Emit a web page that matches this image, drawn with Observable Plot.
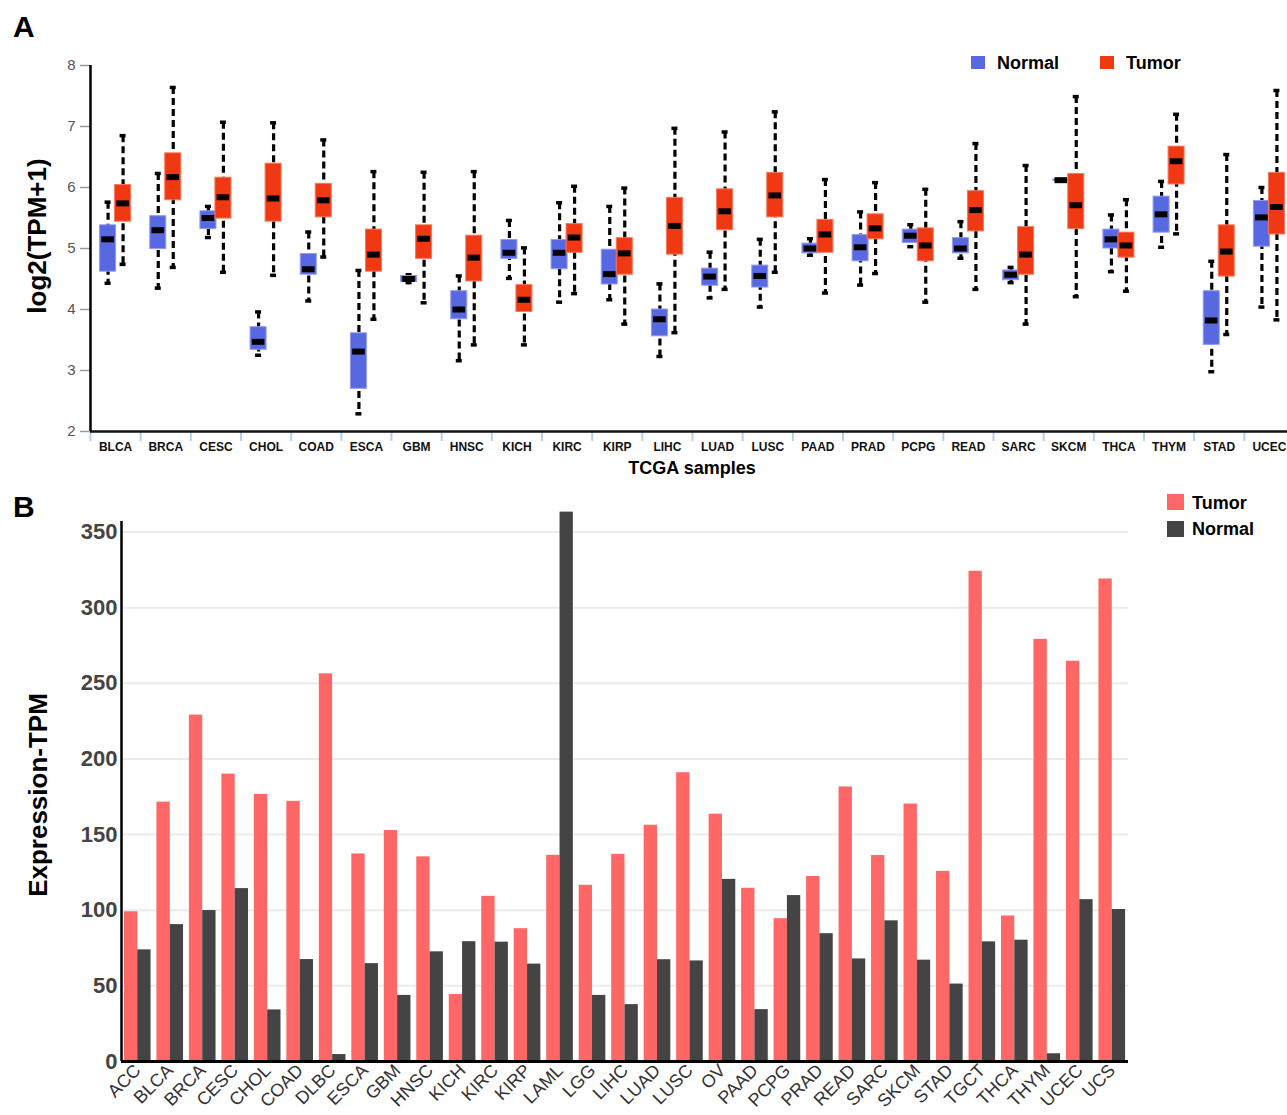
<!DOCTYPE html>
<html><head><meta charset="utf-8">
<script src="https://cdn.jsdelivr.net/npm/d3@7"></script>
<script src="https://cdn.jsdelivr.net/npm/@observablehq/plot@0.6"></script>
<style>
html,body{margin:0;padding:0;background:#fff;overflow:hidden;}
#root{position:relative;width:1287px;height:1115px;font-family:"Liberation Sans",Arial,sans-serif;background:#fff;}
.panel{position:absolute;left:0;}
.panel svg{font-family:"Liberation Sans",Arial,sans-serif;}
.pa [aria-label^="y-axis"] text{font-size:15px;fill:#555;font-weight:normal;}
.pa [aria-label^="y-axis"] line,.pa [aria-label^="y-axis"] path{stroke:#9a9a9a;stroke-width:1.5px;}
.pa [aria-label^="x-axis"] text{font-size:12px;fill:#111;font-weight:bold;}
.pb [aria-label^="y-axis"] text{font-size:22px;fill:#444;font-weight:bold;}
.pb [aria-label^="x-axis"] text{font-size:18px;fill:#333;font-weight:normal;}
#overlay{position:absolute;left:0;top:0;pointer-events:none;}
#overlay text{font-family:"Liberation Sans",Arial,sans-serif;font-weight:bold;fill:#000;}
</style></head>
<body><div id="root"></div>
<script>
// ---------------- Panel A data (log2(TPM+1)) ----------------
const catsA = ["BLCA","BRCA","CESC","CHOL","COAD","ESCA","GBM","HNSC","KICH","KIRC","KIRP","LIHC","LUAD","LUSC","PAAD","PRAD","PCPG","READ","SARC","SKCM","THCA","THYM","STAD","UCEC"];
const normalHi  = [5.76,6.23,5.69,3.96,5.27,4.64,4.57,4.55,5.46,5.75,5.69,4.42,4.94,5.15,5.16,5.60,5.39,5.44,4.69,6.13,5.55,6.10,4.79,6.00];
const normalQ3  = [5.38,5.53,5.61,3.71,4.91,3.61,4.55,4.30,5.14,5.14,4.98,4.00,4.67,4.72,5.08,5.22,5.31,5.17,4.64,6.13,5.31,5.85,4.30,5.78];
const normalMed = [5.15,5.30,5.50,3.47,4.66,3.31,4.50,4.00,4.93,4.93,4.58,3.84,4.54,4.55,5.00,5.02,5.21,5.00,4.57,6.12,5.15,5.56,3.82,5.51];
const normalQ1  = [4.62,4.99,5.32,3.34,4.57,2.70,4.45,3.84,4.83,4.66,4.41,3.56,4.39,4.36,4.92,4.79,5.09,4.92,4.48,6.11,5.00,5.26,3.42,5.03];
const normalLo  = [4.43,4.35,5.18,3.25,4.14,2.29,4.44,3.16,4.51,4.12,4.16,3.23,4.19,4.04,4.89,4.40,5.03,4.84,4.44,6.11,4.62,5.02,2.98,4.04];
const tumorHi   = [6.85,7.64,7.07,7.06,6.78,6.26,6.25,6.26,5.01,6.02,5.99,6.97,6.91,7.24,6.13,6.08,5.97,6.72,6.36,7.49,5.80,7.20,6.54,7.59];
const tumorQ3   = [6.04,6.56,6.16,6.39,6.06,5.31,5.38,5.21,4.40,5.40,5.17,5.83,5.97,6.24,5.47,5.56,5.33,5.94,5.35,6.22,5.26,6.67,5.38,6.24];
const tumorMed  = [5.74,6.17,5.84,5.82,5.79,4.90,5.16,4.85,4.16,5.18,4.92,5.37,5.61,5.87,5.23,5.33,5.05,5.63,4.90,5.71,5.05,6.43,4.95,5.68];
const tumorQ1   = [5.44,5.79,5.49,5.44,5.51,4.62,4.83,4.46,3.96,4.93,4.57,4.90,5.30,5.51,4.93,5.15,4.79,5.28,4.57,5.32,4.85,6.05,4.54,5.23];
const tumorLo   = [4.74,4.69,4.61,4.56,4.86,3.84,4.11,3.42,3.42,4.26,3.76,3.62,4.33,4.61,4.27,4.59,4.12,4.33,3.76,4.21,4.30,5.24,3.59,3.83];
const yTicksA = [2,3,4,5,6,7,8];

// ---------------- Panel B data (Expression-TPM) ----------------
const catsB = ["ACC","BLCA","BRCA","CESC","CHOL","COAD","DLBC","ESCA","GBM","HNSC","KICH","KIRC","KIRP","LAML","LGG","LIHC","LUAD","LUSC","OV","PAAD","PCPG","PRAD","READ","SARC","SKCM","STAD","TGCT","THCA","THYM","UCEC","UCS"];
const tumorB  = [99,171.5,229,190,176.6,172,256.3,137.2,152.7,135.3,44.3,109.2,87.8,136.3,116.5,136.9,156.2,190.9,163.5,114.5,94.4,122.3,181.5,136.2,170.2,125.7,324.1,96.2,279.1,264.6,319];
const normalB = [73.8,90.5,99.8,114.3,34.1,67.4,4.6,64.7,43.7,72.5,79.2,78.9,64.4,363.2,43.7,37.6,67.3,66.5,120.4,34.3,109.7,84.5,67.8,93.0,67.0,51.2,79.1,80.2,5.1,107.0,100.5];
const yTicksB = [0,50,100,150,200,250,300,350];

const colNormalA = "#5868e0", colTumorA = "#f03812";
const colTumorB = "#ff6666", colNormalB = "#444444";

const root = document.getElementById("root");

// ---------------- Panel A ----------------
const rowsN = catsA.map((c,i)=>({cat:c, lo:normalLo[i], q1:normalQ1[i], med:normalMed[i], q3:normalQ3[i], hi:normalHi[i]}));
const rowsT = catsA.map((c,i)=>({cat:c, lo:tumorLo[i], q1:tumorQ1[i], med:tumorMed[i], q3:tumorQ3[i], hi:tumorHi[i]}));
const xRangeA = [90, 1294];
const halfA = (xRangeA[1]-xRangeA[0])/catsA.length/2;
const seg = (l, r) => ({insetLeft: halfA + l, insetRight: halfA - r});
const dash = {stroke: "#000", strokeWidth: 3.2, strokeDasharray: "7,4"};

const plotA = Plot.plot({
  width: 1287, height: 480,
  marginTop: 65, marginBottom: 49, marginLeft: 90, marginRight: 0,
  style: {background: "transparent", overflow: "hidden"},
  x: {domain: catsA, range: xRangeA, padding: 0, round: false, tickSize: 0, tickPadding: 11, label: null},
  y: {domain: [2, 8], ticks: yTicksA, tickFormat: d => String(d), tickSize: 10, tickPadding: 5, label: null},
  marks: [
    Plot.ruleX(catsA, {x: d => d, dx: -halfA, y1: 2, y2: 1.835, stroke: "#b9cfe8", strokeWidth: 2}),
    Plot.ruleX([catsA[0]], {x: d => d, dx: -halfA, y1: 2, y2: 8, stroke: "#000", strokeWidth: 2.5}),
    Plot.ruleY([2], {stroke: "#111", strokeWidth: 2.5}),
    Plot.ruleX(rowsN, {x: "cat", y1: "hi", y2: "lo", dx: -7.5, ...dash}),
    Plot.ruleX(rowsT, {x: "cat", y1: "hi", y2: "lo", dx: 7.5, ...dash}),
    Plot.tickY(rowsN, {x: "cat", y: "hi", stroke: "#000", strokeWidth: 3.5, ...seg(-10.5, -4.5)}),
    Plot.tickY(rowsN, {x: "cat", y: "lo", stroke: "#000", strokeWidth: 3.5, ...seg(-10.5, -4.5)}),
    Plot.tickY(rowsT, {x: "cat", y: "hi", stroke: "#000", strokeWidth: 3.5, ...seg(4.5, 10.5)}),
    Plot.tickY(rowsT, {x: "cat", y: "lo", stroke: "#000", strokeWidth: 3.5, ...seg(4.5, 10.5)}),
    Plot.barY(rowsN, {x: "cat", y1: "q1", y2: "q3", fill: colNormalA, stroke: "#8f9bf2", strokeWidth: 1, ...seg(-15.5, 0.5)}),
    Plot.barY(rowsT, {x: "cat", y1: "q1", y2: "q3", fill: colTumorA, stroke: "#f7785a", strokeWidth: 1, ...seg(-0.5, 15.5)}),
    Plot.tickY(rowsN, {x: "cat", y: "med", stroke: "#000", strokeWidth: 6, ...seg(-13.8, -1.2)}),
    Plot.tickY(rowsT, {x: "cat", y: "med", stroke: "#000", strokeWidth: 6, ...seg(1.2, 13.8)})
  ]
});
const divA = document.createElement("div");
divA.className = "panel pa"; divA.style.top = "0px";
divA.appendChild(plotA); root.appendChild(divA);

// ---------------- Panel B ----------------
const xRangeB = [121, 1128], padInB = 0.18, padOutB = 0.09;
const stepB = (xRangeB[1]-xRangeB[0])/(catsB.length - padInB + 2*padOutB);
const bwB = stepB*(1-padInB);
const barsT = catsB.map((c,i)=>({cat:c, v:tumorB[i]}));
const barsN = catsB.map((c,i)=>({cat:c, v:normalB[i]}));

const plotB = Plot.plot({
  width: 1287, height: 635,
  marginTop: 41, marginBottom: 54, marginLeft: 121, marginRight: 159,
  style: {background: "transparent", overflow: "visible"},
  x: {domain: catsB, range: xRangeB, paddingInner: padInB, paddingOuter: padOutB, align: 0.5, round: false, tickSize: 0, tickPadding: 6, tickRotate: -45, label: null},
  y: {domain: [0, 357], ticks: yTicksB, tickFormat: d => String(d), tickSize: 0, tickPadding: 4, label: null},
  marks: [
    Plot.ruleY(yTicksB, {stroke: "#ebebeb", strokeWidth: 2}),
    Plot.barY(barsT, {x: "cat", y: "v", fill: colTumorB, insetRight: bwB/2}),
    Plot.barY(barsN, {x: "cat", y: "v", fill: colNormalB, insetLeft: bwB/2}),
    Plot.ruleY([0], {stroke: "#000", strokeWidth: 3}),
    Plot.ruleX([catsB[0]], {x: d => d, dx: -(bwB/2 + stepB*padOutB), y1: 0, y2: 357, stroke: "#000", strokeWidth: 2.5})
  ]
});
const divB = document.createElement("div");
divB.className = "panel pb"; divB.style.top = "480px";
divB.appendChild(plotB); root.appendChild(divB);

// ---------------- Titles, legends ----------------
const NS = "http://www.w3.org/2000/svg";
const ov = document.createElementNS(NS, "svg");
ov.setAttribute("id", "overlay"); ov.setAttribute("width", 1287); ov.setAttribute("height", 1115);
root.appendChild(ov);
function txt(s, x, y, size, opts = {}) {
  const t = document.createElementNS(NS, "text");
  t.textContent = s;
  t.setAttribute("x", x); t.setAttribute("y", y);
  t.setAttribute("font-size", size);
  if (opts.anchor) t.setAttribute("text-anchor", opts.anchor);
  if (opts.rotate) { t.setAttribute("transform", `rotate(-90 ${x} ${y})`); t.setAttribute("dy", "0.26em"); }
  ov.appendChild(t);
}
function sq(x, y, w, h, fill) {
  const r = document.createElementNS(NS, "rect");
  r.setAttribute("x", x); r.setAttribute("y", y); r.setAttribute("width", w); r.setAttribute("height", h);
  r.setAttribute("fill", fill); ov.appendChild(r);
}
txt("A", 13, 37, 30);
txt("B", 13, 517, 30);
txt("log2(TPM+1)", 39, 236, 26, {anchor: "middle", rotate: true});
txt("TCGA samples", 692, 474, 18, {anchor: "middle"});
txt("Expression-TPM", 40, 795, 26, {anchor: "middle", rotate: true});
sq(971, 56, 14, 13, colNormalA); txt("Normal", 997, 69, 18);
sq(1100, 56, 14, 13, colTumorA); txt("Tumor", 1126, 69, 18);
sq(1167, 494, 17, 16, colTumorB); txt("Tumor", 1192, 509, 18);
sq(1167, 521, 17, 16, colNormalB); txt("Normal", 1192, 535, 18);
</script></body></html>
